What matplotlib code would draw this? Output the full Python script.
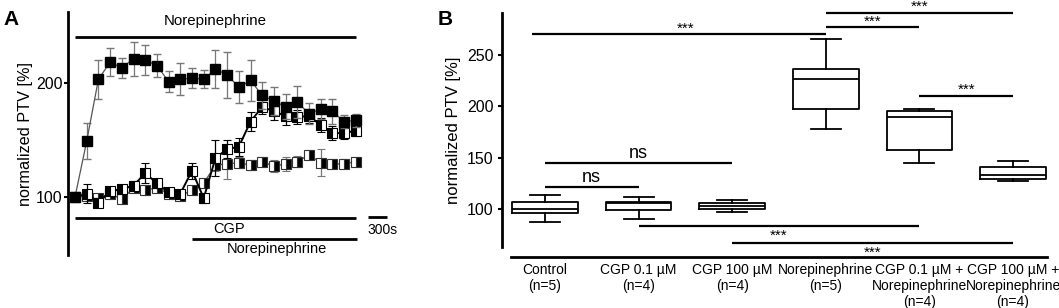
import matplotlib.pyplot as plt

plt.rcParams['font.family'] = ['Liberation Sans', 'DejaVu Sans']

# ---- panel A: time course (one point every 3 min) ----
time_s = [0, 180, 360, 540, 720, 900, 1080, 1260, 1440, 1620, 1800, 1980, 2160,
          2340, 2520, 2700, 2880, 3060, 3240, 3420, 3600, 3780, 3960, 4140, 4320]

ne_only = [100, 149, 203, 218, 213, 221, 220, 215, 201, 203, 204, 203, 212,
           207, 196, 202, 189, 184, 179, 183, 173, 177, 175, 166, 167]
ne_only_err = [3, 16, 17, 12, 9, 15, 13, 10, 9, 14, 9, 8, 17,
               20, 14, 18, 12, 12, 11, 14, 9, 9, 11, 6, 6]

cgp_low = [100, 103, 95, 105, 107, 110, 121, 112, 104, 103, 123, 99, 134,
           142, 144, 166, 179, 175, 171, 170, 171, 163, 156, 156, 158]
cgp_low_err = [2, 8, 4, 3, 3, 4, 9, 4, 3, 3, 7, 4, 16,
               8, 8, 8, 6, 8, 8, 6, 6, 6, 6, 5, 5]

cgp_high = [100, 101, 99, 103, 98, 108, 106, 108, 103, 101, 106, 112, 128,
            129, 130, 128, 131, 127, 129, 131, 137, 130, 129, 129, 131]
cgp_high_err = [2, 4, 3, 3, 3, 4, 4, 4, 3, 3, 4, 4, 5,
                13, 5, 4, 4, 5, 6, 5, 4, 12, 4, 4, 4]

# ---- panel B: box plot summary ----
groups = ['Control\n(n=5)', 'CGP 0.1 µM\n(n=4)', 'CGP 100 µM\n(n=4)',
          'Norepinephrine\n(n=5)', 'CGP 0.1 µM +\nNorepinephrine\n(n=4)',
          'CGP 100 µM +\nNorepinephrine\n(n=4)']
whis_lo = [88, 91, 97.4, 178, 145.3, 127.5]
q1 = [96, 99.3, 100, 197.4, 157.6, 129.4]
med = [100.6, 106.5, 103.2, 226.8, 190, 133]
q3 = [106.8, 107, 105.8, 236, 195.4, 140.8]
whis_hi = [113.6, 112.2, 108.7, 265, 197.4, 147]

# significance bars: start, end, height, label, label above?
sig_bars = [(-0.14, 3, 269.8, '***', True),
            (3, 5, 291, '***', True),
            (3, 4, 276.7, '***', True),
            (4, 5, 210.3, '***', True),
            (0, 2, 144.6, 'ns', True),
            (0, 1, 121.7, 'ns', True),
            (1, 4, 83.8, '***', False),
            (2, 5, 67.3, '***', False)]

fig = plt.figure(figsize=(10.59, 3.08), dpi=100)

# ================= A =================
ax = fig.add_axes([68 / 1059, 53 / 308, 325.5 / 1059, 243 / 308])
ax.errorbar(time_s, cgp_high, yerr=cgp_high_err, color='#555555', lw=1.0,
            ecolor='#777777', elinewidth=0.9, capsize=3, marker='s', ms=6.5,
            mfc='black', mfcalt='white', mec='#333333', mew=0.8,
            fillstyle='right', zorder=2)
ax.errorbar(time_s, cgp_low, yerr=cgp_low_err, color='black', lw=1.4,
            ecolor='black', elinewidth=0.9, capsize=3, marker='s', ms=6.5,
            mfc='black', mfcalt='white', mec='black', mew=0.8,
            fillstyle='left', zorder=3)
ax.errorbar(time_s, ne_only, yerr=ne_only_err, color='#555555', lw=0.9,
            ecolor='#777777', elinewidth=0.9, capsize=3, marker='s', ms=6.5,
            mfc='black', mec='black', zorder=4)

ax.set_xlim(-108, 4900)
ax.set_ylim(49.3, 261.9)
ax.set_yticks([100, 200])
ax.tick_params(axis='y', labelsize=11.5, length=3, width=1.5, pad=1)
ax.set_xticks([])
for s in ['top', 'right', 'bottom']:
    ax.spines[s].set_visible(False)
ax.spines['left'].set_linewidth(2)
ax.set_ylabel('normalized PTV [%]', fontsize=11.7, labelpad=2)

kw = dict(color='black', lw=2, clip_on=False, solid_capstyle='butt')
ax.plot([0, 4320], [240.3, 240.3], **kw)
ax.text(2160, 250.5, 'Norepinephrine', ha='center', va='baseline', fontsize=10.8)
ax.plot([0, 4320], [81.4, 81.4], **kw)
ax.text(2370, 68.2, 'CGP', ha='center', va='baseline', fontsize=10.5)
ax.plot([1800, 4340], [63, 63], **kw)
ax.text(3100, 50.7, 'Norepinephrine', ha='center', va='baseline', fontsize=10.5)
ax.plot([4500, 4800], [82.3, 82.3], **kw)
ax.text(4500, 67.6, '300s', ha='left', va='baseline', fontsize=10)

fig.text(3 / 1059, 1 - 25 / 308, 'A', fontsize=15, fontweight='bold',
         va='baseline')

# ================= B =================
bx = fig.add_axes([502 / 1059, 61 / 308, 545 / 1059, 233.7 / 308])
stats = [dict(whislo=whis_lo[i], q1=q1[i], med=med[i], q3=q3[i],
              whishi=whis_hi[i], fliers=[]) for i in range(len(groups))]
lp = dict(color='black', lw=1.3)
bx.bxp(stats, positions=range(len(groups)), widths=0.7, capwidths=0.32,
       boxprops=lp, whiskerprops=lp, capprops=lp, medianprops=lp,
       showfliers=False)

bx.set_xlim(-0.459, 5.363)
bx.set_ylim(63.4, 290.3)
bx.set_yticks([100, 150, 200, 250])
bx.set_xticks(range(len(groups)))
bx.set_xticklabels(groups, fontsize=8.3, linespacing=1.1)
bx.tick_params(axis='x', length=0, pad=4)
bx.tick_params(axis='y', labelsize=11.5, length=3, width=1.5, pad=3)
for s in ['top', 'right']:
    bx.spines[s].set_visible(False)
bx.spines['left'].set_linewidth(2)
bx.spines['bottom'].set_linewidth(2)
bx.spines['bottom'].set_position(('outward', 7.2))
bx.spines['bottom'].set_bounds(-0.363, 5.363)
bx.set_ylabel('normalized PTV [%]', fontsize=12, labelpad=4)

for x1, x2, y, lab, above in sig_bars:
    bx.plot([x1, x2], [y, y], color='black', lw=1.6, clip_on=False,
            solid_capstyle='butt')
    xm = (x1 + x2) / 2 if lab == 'ns' else (max(x1, 0) + x2) / 2
    if lab == 'ns':
        bx.text(xm, y + 5, lab, ha='center', va='baseline', fontsize=13)
    elif above:
        bx.text(xm, y + 1.5, lab, ha='center', va='baseline', fontsize=11)
    else:
        bx.text(xm, y - 13, lab, ha='center', va='baseline', fontsize=11)

fig.text(438 / 1059, 1 - 25 / 308, 'B', fontsize=15, fontweight='bold',
         va='baseline')

fig.savefig('out.png', dpi=100)
